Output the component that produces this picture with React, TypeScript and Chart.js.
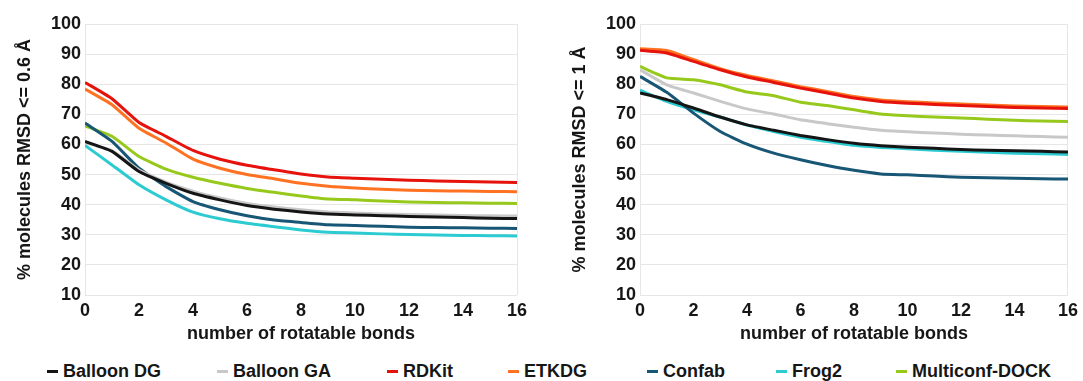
import React, { useEffect, useRef } from "react";
import { Chart, registerables } from "chart.js";

Chart.register(...registerables);

const bonds = [0, 1, 2, 3, 4, 5, 6, 7, 8, 9, 10, 11, 12, 13, 14, 15, 16];
const seriesNames = ["Balloon DG", "Balloon GA", "RDKit", "ETKDG", "Confab", "Frog2", "Multiconf-DOCK"];
const seriesColors = ["#151515", "#c8c8c8", "#e5130c", "#ff7222", "#175674", "#2ccbd1", "#97c91c"];

// RMSD <= 0.6 Å
const balloonDG06 = [61.0, 57.7, 51.0, 47.1, 43.8, 41.6, 39.7, 38.5, 37.6, 36.9, 36.6, 36.3, 36.1, 35.9, 35.7, 35.5, 35.4];
const balloonGA06 = [60.5, 58.0, 51.5, 47.5, 44.5, 42.2, 40.4, 39.2, 38.3, 37.6, 37.2, 36.9, 36.7, 36.6, 36.4, 36.3, 36.2];
const rdkit06 = [80.6, 75.2, 67.3, 62.7, 58.0, 55.1, 53.1, 51.6, 50.2, 49.2, 48.8, 48.4, 48.1, 47.9, 47.7, 47.5, 47.4];
const etkdg06 = [78.4, 73.2, 65.4, 60.5, 55.1, 52.1, 50.0, 48.6, 47.1, 46.1, 45.5, 45.1, 44.8, 44.6, 44.5, 44.4, 44.3];
const confab06 = [67.1, 61.0, 52.1, 46.0, 41.0, 38.3, 36.3, 34.9, 34.1, 33.3, 33.1, 32.8, 32.5, 32.4, 32.3, 32.2, 32.1];
const frog206 = [59.7, 53.2, 46.6, 41.6, 37.5, 35.3, 33.8, 32.7, 31.6, 30.8, 30.6, 30.3, 30.1, 29.9, 29.8, 29.7, 29.6];
const multiconf06 = [66.2, 62.7, 56.0, 51.8, 49.1, 47.1, 45.4, 44.1, 42.9, 41.9, 41.6, 41.2, 40.9, 40.7, 40.6, 40.5, 40.4];

// RMSD <= 1 Å
const balloonDG1 = [77.1, 74.9, 72.1, 69.1, 66.5, 64.7, 63.0, 61.6, 60.4, 59.6, 59.1, 58.7, 58.3, 58.1, 57.9, 57.7, 57.5];
const balloonGA1 = [84.8, 79.8, 77.1, 74.3, 71.8, 70.1, 68.2, 66.9, 65.7, 64.7, 64.2, 63.8, 63.4, 63.1, 62.9, 62.6, 62.4];
const rdkit1 = [91.3, 90.4, 87.6, 84.8, 82.4, 80.6, 78.7, 77.1, 75.4, 74.3, 73.7, 73.3, 72.9, 72.6, 72.3, 72.1, 71.9];
const etkdg1 = [91.8, 91.2, 88.2, 85.2, 82.9, 81.1, 79.2, 77.6, 75.9, 74.8, 74.2, 73.8, 73.4, 73.1, 72.8, 72.6, 72.4];
const confab1 = [82.6, 77.3, 70.4, 64.3, 60.1, 57.1, 54.9, 53.0, 51.4, 50.2, 49.9, 49.5, 49.1, 48.9, 48.8, 48.6, 48.5];
const frog21 = [78.0, 74.3, 71.5, 69.1, 66.4, 64.3, 62.4, 61.0, 59.7, 59.0, 58.6, 58.1, 57.7, 57.4, 57.1, 56.9, 56.7];
const multiconf1 = [85.9, 82.1, 81.5, 79.8, 77.4, 76.2, 74.0, 72.9, 71.5, 70.1, 69.5, 69.1, 68.8, 68.4, 68.0, 67.8, 67.6];

const panel06 = [balloonDG06, balloonGA06, rdkit06, etkdg06, confab06, frog206, multiconf06];
const panel1 = [balloonDG1, balloonGA1, rdkit1, etkdg1, confab1, frog21, multiconf1];

const yTitle06 = "% molecules RMSD <= 0.6 Å";
const yTitle1 = "% molecules RMSD <= 1 Å";
const xTitle = "number of rotatable bonds";

const FONT = "'Liberation Sans', Arial, sans-serif";
const TEXT = "#161616";
const GRID = "#e6e6e6";

function makeConfig(values: number[][], yTitle: string, padRight: number): any {
  return {
    type: "line",
    data: {
      datasets: values.map((arr, i) => ({
        label: seriesNames[i],
        data: arr.map((v, j) => ({ x: bonds[j], y: v })),
        borderColor: seriesColors[i],
        backgroundColor: seriesColors[i],
        borderWidth: 3,
        pointRadius: 0,
        tension: 0.15,
        fill: false,
      })),
    },
    options: {
      animation: false,
      responsive: false,
      maintainAspectRatio: false,
      layout: { padding: { left: 0, right: padRight, top: 24, bottom: 0 } },
      plugins: { legend: { display: false }, tooltip: { enabled: false } },
      scales: {
        x: {
          type: "linear",
          min: 0,
          max: 16,
          afterFit: (s: any) => {
            s.height = 50;
          },
          ticks: {
            stepSize: 2,
            padding: 5,
            color: TEXT,
            font: { family: FONT, size: 18, weight: "bold" },
          },
          grid: {
            drawTicks: false,
            color: (c: any) => (c.tick && (c.tick.value === 0 || c.tick.value === 16) ? GRID : "rgba(0,0,0,0)"),
          },
          border: { display: false },
          title: {
            display: true,
            text: xTitle,
            color: TEXT,
            padding: { top: 0, bottom: 0 },
            font: { family: FONT, size: 18, weight: "bold" },
          },
        },
        y: {
          min: 10,
          max: 100,
          afterFit: (s: any) => {
            s.width = 85;
          },
          ticks: {
            stepSize: 10,
            padding: 4,
            color: TEXT,
            font: { family: FONT, size: 18, weight: "bold" },
          },
          grid: { drawTicks: false, color: GRID },
          border: { display: false },
          title: {
            display: true,
            text: yTitle,
            color: TEXT,
            padding: { top: 14, bottom: 0 },
            font: { family: FONT, size: 18, weight: "bold" },
          },
        },
      },
    },
  };
}

function Panel({ values, yTitle, left, width, padRight }: any) {
  const ref = useRef<HTMLCanvasElement | null>(null);
  useEffect(() => {
    if (!ref.current) return;
    const chart = new Chart(ref.current, makeConfig(values, yTitle, padRight));
    return () => chart.destroy();
  }, []);
  return (
    <div style={{ position: "absolute", left, top: 0, width, height: 345 }}>
      <canvas ref={ref} width={width} height={345} style={{ width, height: 345, display: "block" }} />
    </div>
  );
}

const legendLeft = [47, 217, 387, 508, 647, 776, 896];

export default function App() {
  return (
    <div style={{ position: "absolute", left: 0, top: 0, width: 1083, height: 381, background: "#fff", overflow: "hidden" }}>
      <Panel values={panel06} yTitle={yTitle06} left={0} width={540} padRight={23} />
      <Panel values={panel1} yTitle={yTitle1} left={555} width={528} padRight={11} />
      {seriesNames.map((name, i) => (
        <div
          key={name}
          style={{
            position: "absolute",
            left: legendLeft[i],
            top: 361,
            height: 21,
            display: "flex",
            alignItems: "center",
            fontFamily: FONT,
            fontWeight: "bold",
            fontSize: 18,
            color: TEXT,
            whiteSpace: "nowrap",
          }}
        >
          <span style={{ display: "inline-block", width: 11, height: 3, background: seriesColors[i], marginRight: 5 }} />
          <span>{name}</span>
        </div>
      ))}
    </div>
  );
}
